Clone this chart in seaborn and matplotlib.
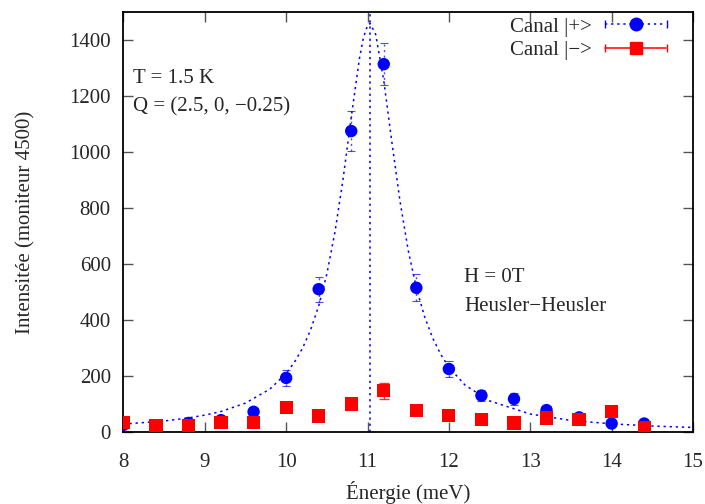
import matplotlib
matplotlib.use('Agg')
import matplotlib.pyplot as plt
import seaborn as sns
from matplotlib.lines import Line2D
from matplotlib.path import Path
from matplotlib.legend_handler import HandlerTuple

energie = [8.0, 8.4, 8.8, 9.2, 9.6, 10.0, 10.4, 10.8, 11.2, 11.6,
           12.0, 12.4, 12.8, 13.2, 13.6, 14.0, 14.4]
canal_plus = [25, 20, 32, 42, 72, 193, 510, 1075, 1314, 515,
              225, 130, 118, 78, 52, 30, 30]
err_plus = [10, 10, 12, 12, 15, 28, 45, 70, 75, 48, 28, 20, 22, 15, 12, 10, 10]
canal_moins = [35, 22, 22, 35, 35, 86, 57, 100, 147, 76,
               58, 43, 32, 50, 43, 72, 14]
err_moins = [12, 10, 10, 12, 12, 15, 12, 18, 28, 15, 12, 12, 10, 12, 12, 14, 10]

# Ajustement (courbe pointillée)
fit_x = [8.0, 8.5, 8.8, 9.0, 9.2, 9.5, 9.8, 10.0, 10.1, 10.2, 10.3, 10.4, 10.5,
         10.6, 10.7, 10.8, 10.9, 10.95, 11.0, 11.03, 11.1, 11.2, 11.3, 11.4,
         11.5, 11.6, 11.7, 11.8, 11.9, 12.0, 12.2, 12.5, 13.0, 13.5, 14.0,
         14.5, 15.0]
fit_y = [28, 39, 50, 60, 73, 103, 153, 209, 248, 298, 364, 450, 564,
         714, 904, 1124, 1333, 1409, 1452, 1460, 1421, 1255, 1034, 823,
         649, 515, 413, 336, 277, 231, 167, 111, 64, 41, 29,
         21, 16]
centre = 11.03

sns.set_style('ticks')
plt.rcParams['font.family'] = ['Liberation Serif', 'DejaVu Serif']
fs = 15

fig = plt.figure(figsize=(7.05, 5.04), dpi=100)
ax = fig.add_axes([0.175, 0.143, 0.808, 0.833])

bleu = '#0000ff'
rouge = '#ff0000'
pointille = (0, (1.5, 2.5))

sns.lineplot(x=fit_x, y=fit_y, ax=ax, color=bleu, linewidth=1.1,
             linestyle=pointille, sort=False, estimator=None, zorder=2)
ax.axvline(centre, color=bleu, linewidth=1.1, linestyle=pointille, zorder=1)

eb = ax.errorbar(energie, canal_plus, yerr=err_plus, fmt='none', ecolor=bleu,
                 elinewidth=1.0, capsize=3, capthick=0.8, alpha=0.7, zorder=3)
eb[2][0].set_linestyle(pointille)
sns.scatterplot(x=energie, y=canal_plus, ax=ax, marker='o', s=80, color=bleu,
                edgecolor='none', zorder=4)

ax.errorbar(energie, canal_moins, yerr=err_moins, fmt='none', ecolor=rouge,
            elinewidth=1.0, capsize=3.5, capthick=1.0, alpha=0.8, zorder=5)
sns.scatterplot(x=energie, y=canal_moins, ax=ax, marker='s', s=90, color=rouge,
                edgecolor='none', zorder=6)

ax.set_xlim(8, 15)
ax.set_ylim(0, 1500)
ax.set_xticks(range(8, 16))
ax.set_yticks(range(0, 1401, 200))
ax.tick_params(direction='in', top=True, right=True, length=7, width=1,
               color='#555555', labelsize=fs)
ax.tick_params(axis='x', pad=15)
ax.tick_params(axis='y', pad=9)
for sp in ax.spines.values():
    sp.set_linewidth(1.3)
    sp.set_color('black')

ax.set_xlabel('Énergie (meV)', fontsize=fs, labelpad=7)
ax.set_ylabel('Intensitée (moniteur 4500)', fontsize=fs, labelpad=24)

ax.text(8.12, 1245, 'T = 1.5 K', fontsize=fs, va='baseline')
ax.text(8.12, 1144, 'Q = (2.5, 0, −0.25)', fontsize=fs, va='baseline')
ax.text(12.19, 537, 'H = 0T', fontsize=fs, va='baseline')
ax.text(12.19, 432, 'Heusler−Heusler', fontsize=fs, va='baseline')

# Légende façon gnuplot : texte puis échantillon avec barres d'erreur
hl = 2.95
caps = Path([(-1, -0.12), (-1, 0.12), (1, -0.12), (1, 0.12)],
            [Path.MOVETO, Path.LINETO, Path.MOVETO, Path.LINETO])
h_plus = (Line2D([], [], color=bleu, linestyle=pointille, linewidth=1.1),
          Line2D([], [], color=bleu, linestyle='none', marker=caps,
                 markersize=hl * fs, markeredgewidth=1.0),
          Line2D([], [], color=bleu, linestyle='none', marker='o', markersize=9))
h_moins = (Line2D([], [], color=rouge, linewidth=1.1),
           Line2D([], [], color=rouge, linestyle='none', marker=caps,
                  markersize=hl * fs, markeredgewidth=1.0),
           Line2D([], [], color=rouge, linestyle='none', marker='s', markersize=9))
ax.legend([h_plus, h_moins], ['Canal |+>', 'Canal |−>'],
          handler_map={tuple: HandlerTuple(ndivide=1, pad=0)},
          loc='upper right', bbox_to_anchor=(0.953, 0.988), frameon=False,
          markerfirst=False, handlelength=hl, handletextpad=0.6,
          labelspacing=0.2, borderpad=0, borderaxespad=0, numpoints=1,
          fontsize=fs)

fig.savefig('out.png', dpi=100)
